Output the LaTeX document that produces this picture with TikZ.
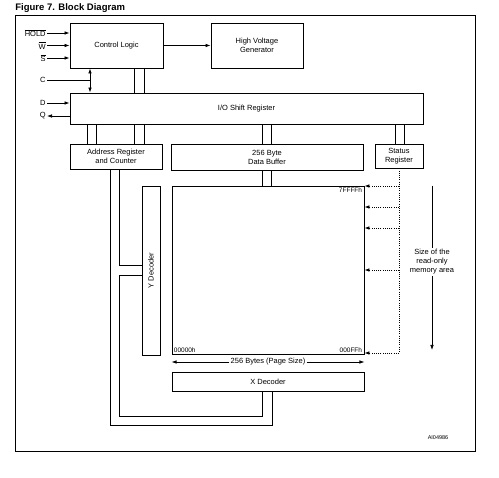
\documentclass[tikz,border=0pt]{standalone}
\usepackage{fontspec}
\setmainfont{Liberation Sans}
\usetikzlibrary{arrows.meta}

\begin{document}
\begin{tikzpicture}[x=1pt, y=-1pt, line width=0.75pt,
	every node/.style={font=\fontsize{7.5}{9}\selectfont, inner sep=1pt},
	>={Latex[length=5pt, width=3.6pt]},
	blk/.style n args={2}{draw, line width=0.9pt, minimum width=#1pt, minimum height=#2pt, inner sep=0pt, align=center},
	addrtxt/.style={font=\fontsize{6.5}{8}\selectfont, inner sep=2pt},
	rom/.style={dash pattern=on 1pt off 1.2pt}]
	\useasboundingbox (0,0) rectangle (499,478);
	\node[anchor=west, font=\bfseries\fontsize{9.5}{11}\selectfont] (ttl) at (14,8) {Figure 7. Block Diagram};
	\draw (15,15) rectangle (475,451);
	% blocks
	\node[blk={93}{45}] (ctrl) at (116.5,45.5) {Control Logic};
	\node[blk={92}{45}] (hvg) at (257,45.5) {High Voltage\\Generator};
	\node[blk={353}{31}] (io) at (246.5,108.5) {I/O Shift Register};
	\node[blk={92}{25}] (addr) at (116,156.5) {Address Register\\and Counter};
	\node[blk={192}{26}] (buf) at (267,157) {256 Byte\\Data Buffer};
	\node[blk={48}{24}] (stat) at (399,156) {Status\\Register};
	\node[blk={192}{168}] (mem) at (268,270) {};
	\node[blk={18}{169}] (ydec) at (151,270.5) {};
	\node[rotate=90] at (ydec.center) {Y Decoder};
	\node[blk={192}{19}] (xdec) at (268,381.5) {X Decoder};
	% pins
	\node[anchor=east] (hold) at (47,33) {$\overline{\mbox{HOLD}}$};
	\node[anchor=east] (wr) at (47,45.5) {$\overline{\mbox{W}}$};
	\node[anchor=east] (sel) at (47,58) {$\overline{\mbox{S}}$};
	\node[anchor=east] (clk) at (47,80) {C};
	\node[anchor=east] (din) at (47,103) {D};
	\node[anchor=east] (dout) at (47,116) {Q};
	\foreach \n in {hold,wr,sel}
		\draw[->] (\n.east) -- (\n.east -| ctrl.west);
	\draw[->] (din.east) -- (din.east -| io.west);
	\draw[->] (dout.east -| io.west) -- (dout.east);
	\coordinate (cj) at (90,80);
	\draw (clk.east) -- (cj);
	\draw[<->] (cj |- ctrl.south) -- (cj |- io.north);
	\draw[->] (ctrl) -- (hvg);
	% buses
	\foreach \x in {134,144}
		\draw (ctrl.south -| \x,0) -- (io.north -| \x,0);
	\foreach \x in {87,96,134,144}
		\draw (io.south -| \x,0) -- (addr.north -| \x,0);
	\foreach \x in {262,271} {
		\draw (io.south -| \x,0) -- (buf.north -| \x,0);
		\draw (buf.south -| \x,0) -- (mem.north -| \x,0);
	}
	\foreach \x in {395,404}
		\draw (io.south -| \x,0) -- (stat.north -| \x,0);
	\draw (addr.south -| 110,0) |- (272,425) -- (xdec.south -| 272,0);
	\draw (addr.south -| 119,0) |- (ydec.west |- 0,265);
	\draw (ydec.west |- 0,275) -| (119,416) -| (xdec.south -| 262,0);
	% memory array
	\node[addrtxt, anchor=north east] (top) at (mem.north east) {7FFFFh};
	\node[addrtxt, anchor=south west] (org) at (mem.south west) {00000h};
	\node[addrtxt, anchor=south east] (pend) at (mem.south east) {000FFh};
	\draw[rom] (stat.south) -- (stat.south |- 0,353);
	\foreach \y in {186,207,228,270,353}
		\draw[rom, ->] (stat.south |- 0,\y) -- (mem.east |- 0,\y);
	\node[align=center] (sz) at (432,262) {Size of the\\read-only\\memory area};
	\draw (sz.north |- mem.north) -- (sz.north);
	\draw[->] (sz.south) -- (sz.south |- 0,350);
	\node[fill=white] (pg) at (268,362) {256 Bytes (Page Size)};
	\draw[->] (pg.west) -- (mem.west |- pg.west);
	\draw[->] (pg.east) -- (mem.east |- pg.east);
	\node[font=\fontsize{5.5}{6}\selectfont] (code) at (438,438) {AI04986};
\end{tikzpicture}
\end{document}
